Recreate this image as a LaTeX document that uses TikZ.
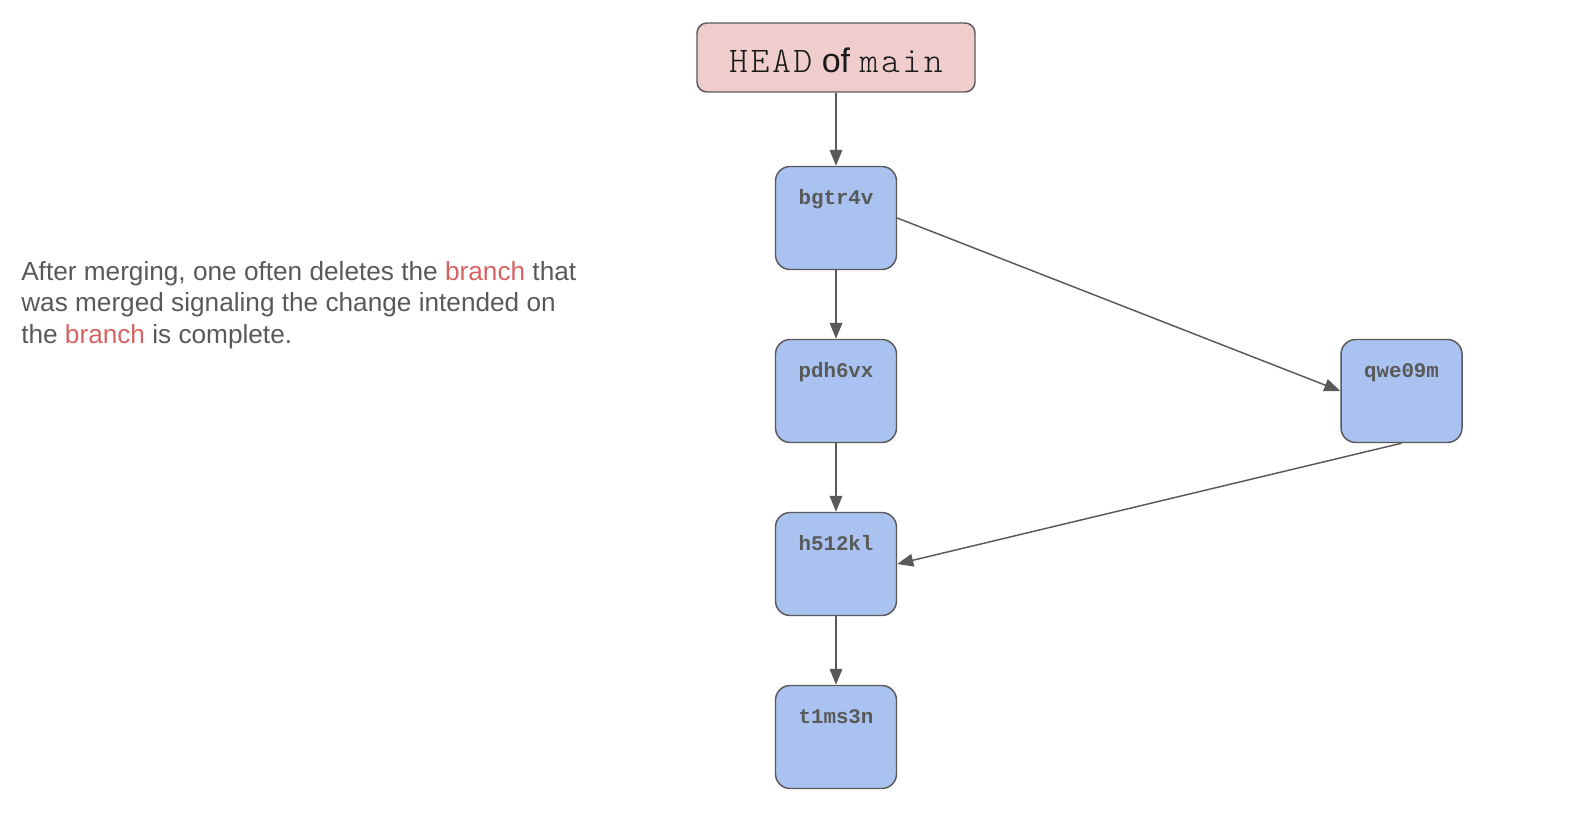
\documentclass[tikz,border=0pt]{standalone}
\usepackage{fontspec}
\setmainfont{Liberation Sans}
\setmonofont{Liberation Mono}
\newfontfamily\headmono[LetterSpace=7]{Latin Modern Mono Light}
\usetikzlibrary{positioning,arrows.meta}
\definecolor{headpink}{HTML}{EFCDCD}
\definecolor{commitblue}{HTML}{A9C2F0}
\definecolor{edgegray}{HTML}{595959}
\definecolor{textgray}{HTML}{595959}
\definecolor{branchred}{HTML}{D66363}
\begin{document}
\begin{tikzpicture}[x=0.75pt, y=-0.75pt, >={Triangle[length=12pt,width=9.5pt]}]
  \tikzset{commit/.style={draw=edgegray, line width=1.1pt, fill=commitblue, rounded corners=11pt, minimum width=90.75pt, minimum height=77.25pt},
    hash/.style={font=\ttfamily\bfseries\fontsize{15.6}{18}\selectfont, text=textgray, inner sep=0pt, text height=11pt, text depth=3pt},
    link/.style={->, draw=edgegray, line width=1.1pt}}
  \useasboundingbox (0,0) rectangle (1588,820);
  % branch pointer
  \node[draw=edgegray, line width=1.1pt, fill=headpink, rounded corners=7.5pt, minimum width=208.5pt, minimum height=51.75pt, text height=23pt, text depth=0pt, font=\fontsize{25.5}{30}\selectfont, text=black!90] (head) at (836,57.5) {{\headmono\fontsize{27}{30}\selectfont HEAD} of {\headmono\fontsize{27}{30}\selectfont main}};
  % commits
  \node[commit] (bgtr4v) at (836,218) {};
  \node[commit] (pdh6vx) at (836,391) {};
  \node[commit] (h512kl) at (836,564) {};
  \node[commit] (t1ms3n) at (836,737) {};
  \node[commit] (qwe09m) at (1401.5,391) {};
  \node[hash, below=17.5pt of bgtr4v.north] (bgtr4v-id) {bgtr4v};
  \node[hash, below=17.5pt of pdh6vx.north] (pdh6vx-id) {pdh6vx};
  \node[hash, below=17.5pt of h512kl.north] (h512kl-id) {h512kl};
  \node[hash, below=17.5pt of t1ms3n.north] (t1ms3n-id) {t1ms3n};
  \node[hash, below=17.5pt of qwe09m.north] (qwe09m-id) {qwe09m};
  % note
  \node[anchor=north west, align=left, inner sep=0pt, text=textgray, font=\fontsize{19.65}{23.7}\selectfont] (note) at (21,261) {After merging, one often deletes the \textcolor{branchred}{branch} that\\was merged signaling the change intended on\\the \textcolor{branchred}{branch} is complete.};
  \draw[link] (head) -- (bgtr4v);
  \draw[link] (bgtr4v) -- (pdh6vx);
  \draw[link] (pdh6vx) -- (h512kl);
  \draw[link] (h512kl) -- (t1ms3n);
  \draw[link] (bgtr4v.east) -- (qwe09m.west);
  \draw[link] (qwe09m.south) -- (h512kl.east);
\end{tikzpicture}
\end{document}
